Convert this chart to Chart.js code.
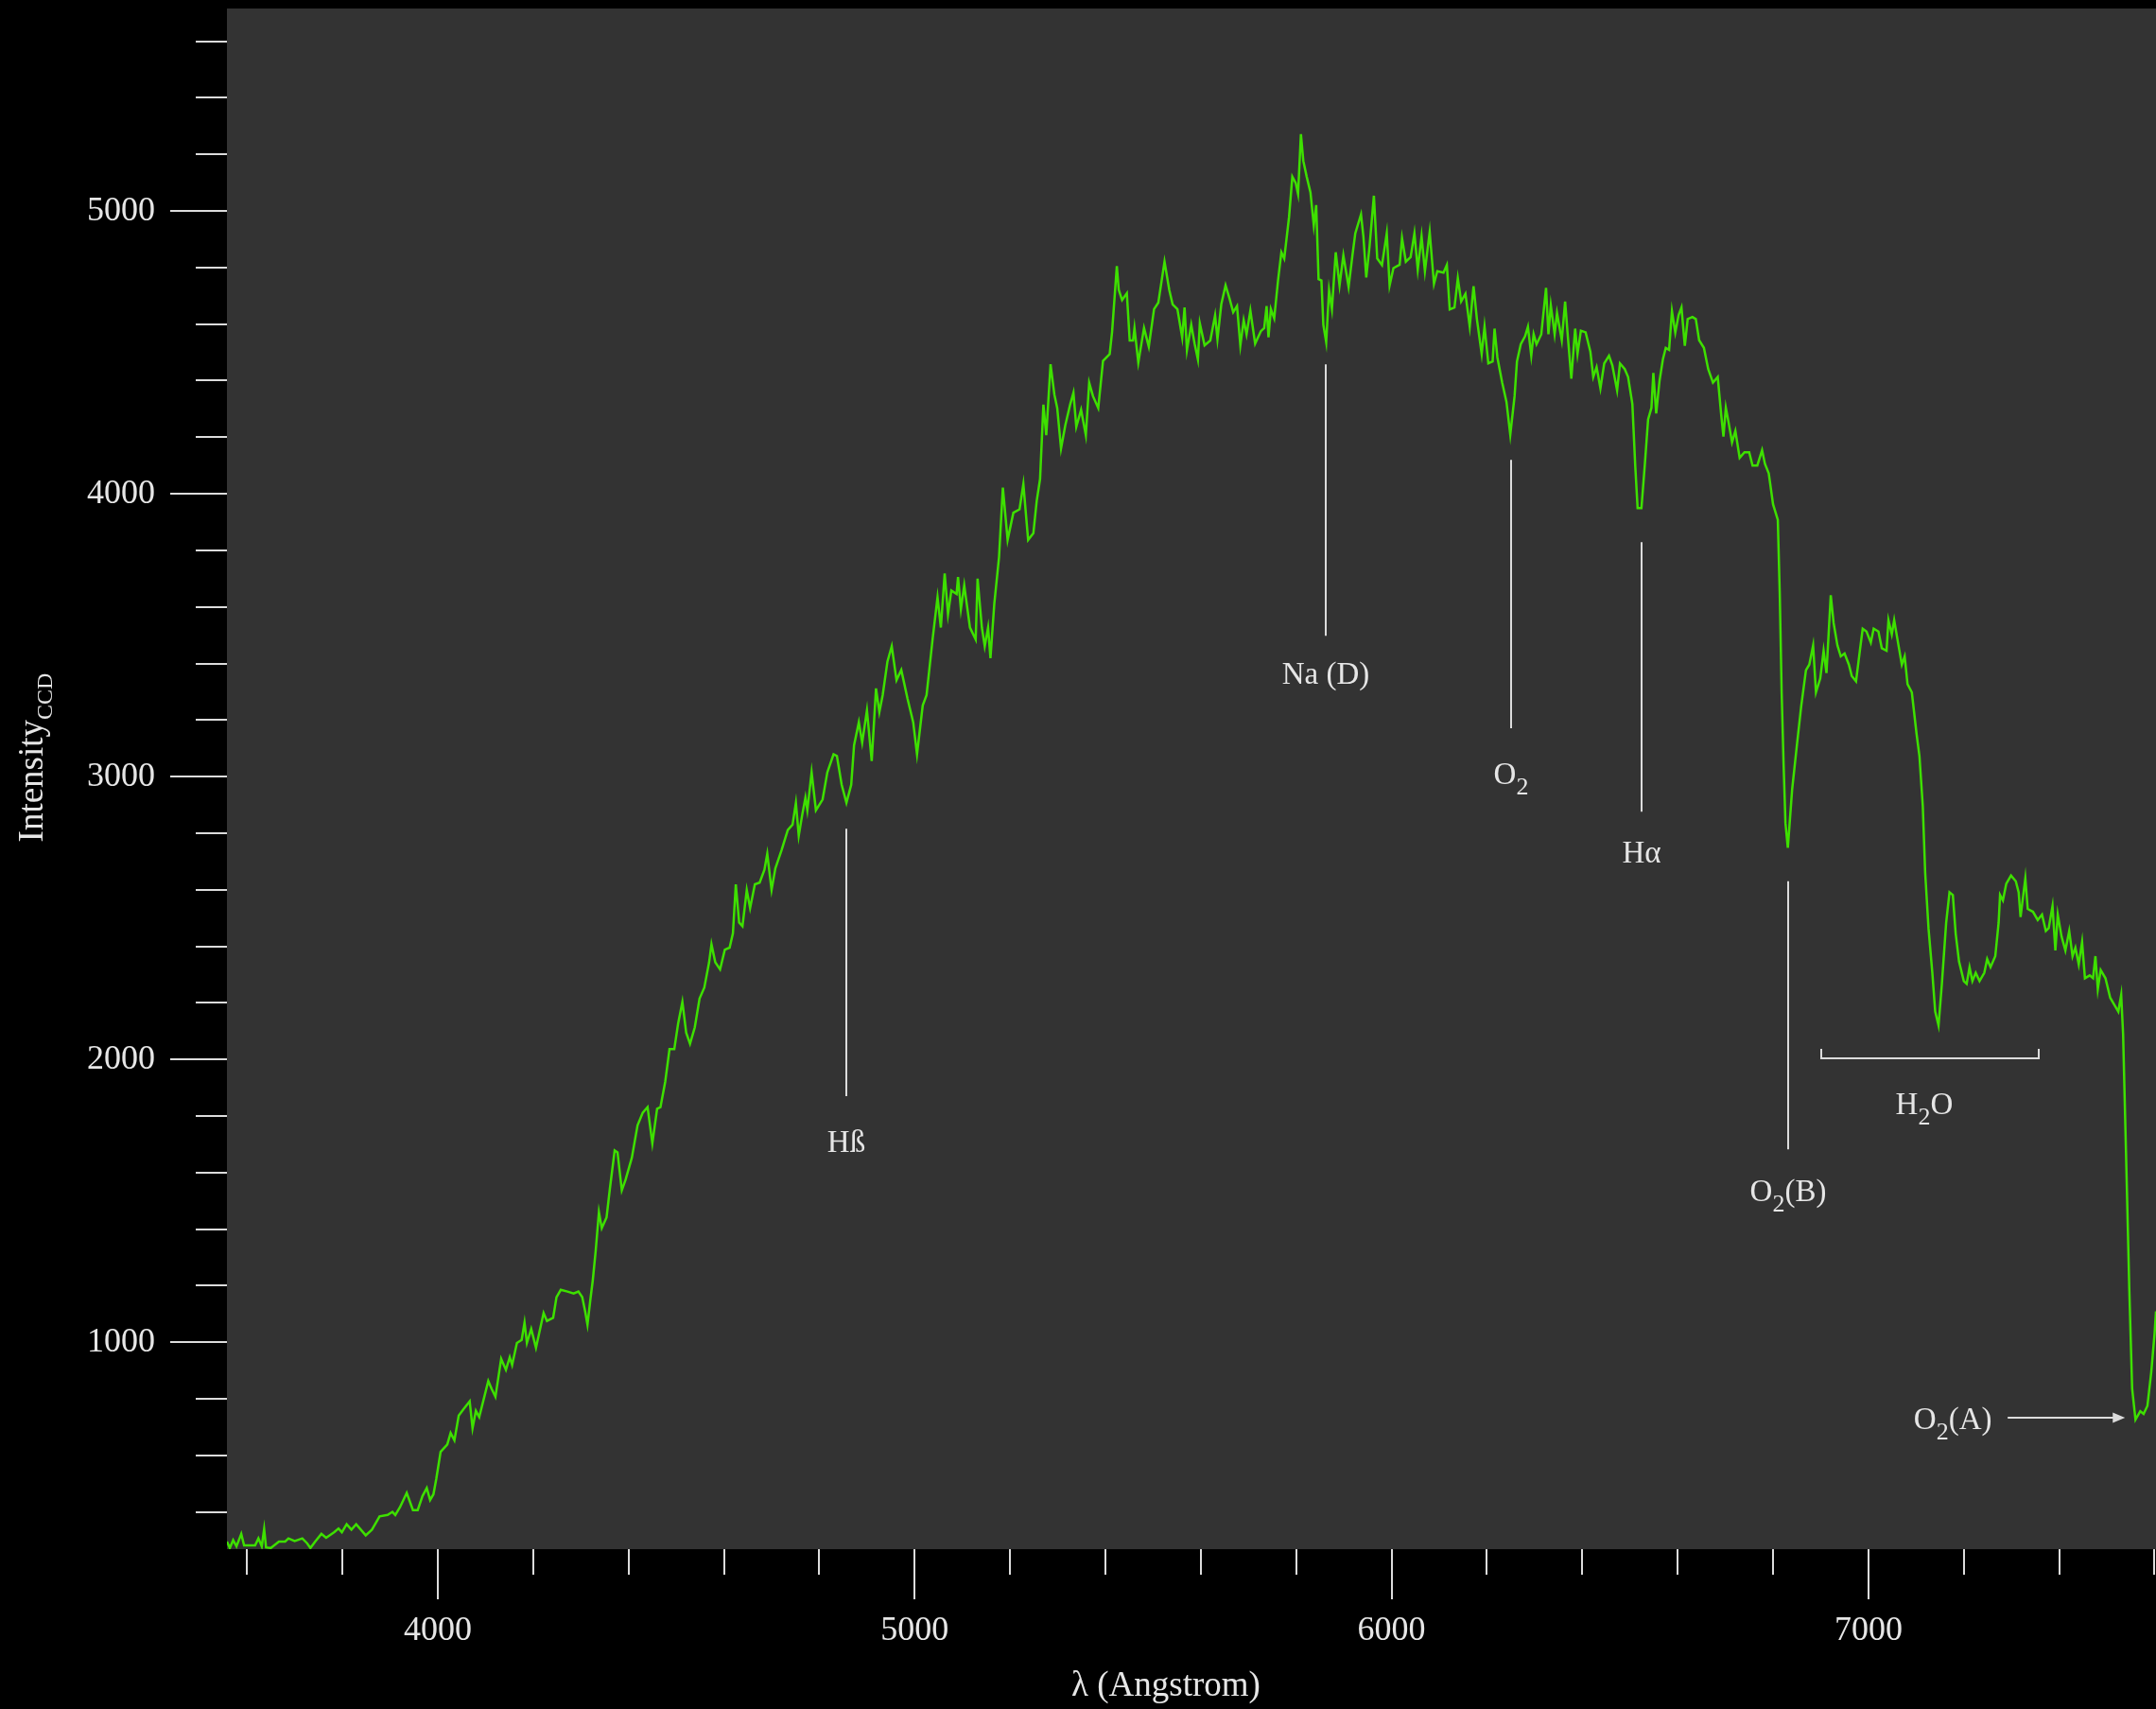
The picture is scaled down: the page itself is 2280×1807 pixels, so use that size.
<!DOCTYPE html>
<html>
<head>
<meta charset="utf-8">
<title>Spectrum</title>
<script src="https://cdn.jsdelivr.net/npm/chart.js@4.4.1/dist/chart.umd.min.js"></script>
<style>
  html, body { margin: 0; padding: 0; background: #000; }
  canvas { display: block; }
</style>
</head>
<body>
<canvas id="spectrum" width="2280" height="1807"></canvas>
<script>
// Wavelength samples (Angstrom)
const wavelength = [
  3558,3564,3571,3578,3588,3594,3617,3624,3631,3636,
  3640,3650,3667,3680,3687,3700,3716,3726,3733,3743,
  3756,3766,3783,3792,3799,3809,3819,3829,3849,3862,
  3878,3895,3905,3911,3921,3935,3948,3958,3968,3977,
  3984,3991,3997,4006,4020,4027,4035,4044,4054,4067,
  4073,4080,4087,4106,4113,4121,4133,4143,4151,4156,
  4166,4176,4182,4187,4196,4206,4222,4229,4242,
  4249,4258,4272,4285,4295,4303,4309,4314,4320,4325,
  4331,4338,4344,4354,4361,4371,4377,4386,4394,4407,
  4419,4430,4440,4450,4460,4467,4477,4486,4496,4504,
  4513,4521,4529,4539,4549,4559,4569,4574,4582,4592,
  4602,4612,4619,4625,4632,4639,4648,4655,4665,4675,
  4685,4691,4700,4708,4721,4734,4744,4751,4757,4764,
  4771,4775,4784,4793,4807,4817,4830,4837,4847,4857,
  4867,
  4873,4883,4890,4900,4910,4919,4926,4933,4943,4952,
  4962,4972,4985,4997,5005,5017,5025,5038,5048,5055,
  5063,5070,5077,5088,5091,5097,5104,5116,5128,5132,
  5141,5147,5154,5159,5167,5177,5185,5195,5207,5220,
  5228,5238,5249,5256,5263,5270,5276,5285,5293,5299,
  5307,5316,5326,5333,5339,5349,5359,5366,5374,5385,
  5395,5409,5414,5424,5428,5435,5445,5451,5458,
  5461,5469,5481,5491,5502,5511,5524,5534,5541,5551,
  5561,5566,5571,5580,5587,5594,5598,5608,5620,5630,
  5635,5643,5652,5660,5668,5676,5683,5690,5696,5704,
  5714,5726,5733,5738,5742,5747,5754,5762,5769,5775,
  5785,5792,5799,5804,5810,5815,5822,5830,5837,5842,
  5847,5853,5857,5863,5869,5875,5883,5891,5899,5910,
  5918,5924,5936,5941,5947,5954,5963,5970,5980,5990,
  5996,6004,6017,6022,6030,6040,6048,6055,6063,6070,
  6080,6089,6096,
  6109,6116,6122,6132,6139,6146,6155,6164,6172,6179,
  6189,6195,6203,6212,6216,6222,6232,6241,6249,6258,
  6263,6271,6280,6286,6293,6298,6304,6314,6324,6329,
  6334,6342,6347,6357,6364,6370,6377,6385,6390,6397,
  6407,6417,6423,6430,6438,6446,6456,6463,6473,6479,
  6489,6496,6505,6511,6516,6524,6531,6538,6545,6549,
  6555,6562,6569,6575,6582,6588,6595,6602,6608,6615,
  6621,6631,6638,6645,6655,6664,6674,6684,6691,6696,
  6701,6707,6714,6721,6730,6740,6750,6757,6767,6777,
  6783,6791,6800,6810,
  6814,6818,6822,6826,6831,6840,6850,6859,6869,6876,
  6884,6890,6899,6906,6912,6921,6927,6935,6942,6950,
  6959,6965,6974,6982,6988,6996,7005,7011,7021,7028,
  7038,7042,7049,7054,7061,7070,7076,7082,7091,7101,
  7107,7114,7119,7126,7134,7140,7147,7154,7163,7170,
  7177,7183,7190,7200,7206,7212,7218,7225,7233,7243,
  7249,7256,7266,7273,7276,7282,7289,7299,7309,7315,
  7319,7329,7334,7345,7355,7364,7372,7378,7386,7392,
  7397,7405,7413,7421,7428,7434,7441,7448,7454,7464,
  7471,7476,7481,7487,7497,7507,7517,7524,7530,7534,
  7540,7547,7553,7560,7570,7577,7585,7593,7600,7603
];

// CCD counts at each wavelength
const intensity = [
  295,272,300,278,322,281,281,306,278,339,
  274,272,295,295,306,297,306,289,272,295,
  322,308,328,341,328,356,337,356,317,337,
  384,389,400,389,417,467,406,406,456,484,
  442,462,517,612,638,679,653,740,763,791,
  696,757,735,863,835,807,941,902,947,919,
  997,1008,1069,997,1047,980,1103,1075,1086,
  1159,1185,1179,1172,1179,1159,1110,1062,1150,1217,
  1319,1460,1403,1441,1543,1678,1671,1537,1575,1652,
  1767,1812,1831,1703,1825,1831,1921,2036,2036,2126,
  2203,2094,2055,2113,2215,2254,2343,2407,2343,2318,
  2388,2395,2446,2619,2484,2471,2599,2535,2619,2625,
  2670,2727,2599,2676,2740,2811,2830,2907,2791,2862,
  2926,2881,3015,2881,2919,3015,3079,3073,2971,2907,
  2971,
  3111,3192,3120,3234,3055,3312,3228,3288,3407,3461,
  3341,3377,3276,3192,3079,3252,3288,3491,3634,3527,
  3718,3574,3658,3646,3706,3592,3676,3527,3485,3700,
  3527,3461,3527,3419,3610,3777,4022,3837,3933,3945,
  4034,3837,3861,3975,4052,4315,4207,4458,4351,4303,
  4160,4243,4315,4357,4237,4297,4207,4393,4345,4303,
  4470,4494,4572,4805,4721,4685,4709,4542,4542,
  4586,4464,4586,4520,4653,4676,4821,4720,4670,4653,
  4553,4659,4508,4598,4531,4475,4603,4525,4542,4631,
  4547,4670,4737,4692,4642,4664,4525,4614,4564,4648,
  4531,4575,4586,4664,4553,4653,4620,4754,4854,4832,
  4977,5121,5099,5060,5272,5177,5122,5066,4949,5021,
  4759,4754,4598,4536,4720,4653,4854,4737,4843,4731,
  4843,4921,4988,4910,4765,4876,5054,4832,4809,4921,
  4737,4798,4810,4904,4821,4837,4921,4793,4910,4787,
  4926,4742,4787,
  4782,4809,4652,4659,4762,4680,4707,4591,4734,4618,
  4495,4591,4461,4468,4584,4482,4393,4325,4209,4345,
  4468,4529,4557,4591,4488,4564,4529,4564,4728,4564,
  4666,4564,4639,4543,4680,4550,4407,4584,4495,4577,
  4571,4502,4413,4448,4373,4461,4488,4454,4366,4461,
  4441,4413,4318,4100,3949,3949,4100,4263,4304,4427,
  4284,4400,4475,4516,4509,4646,4570,4632,4659,4523,
  4618,4625,4618,4543,4516,4441,4393,4413,4284,4202,
  4304,4250,4182,4222,4127,4147,4147,4100,4100,4154,
  4106,4072,3963,3908,
  3650,3300,3050,2836,2748,2954,3111,3248,3376,3396,
  3464,3298,3347,3445,3366,3641,3543,3464,3425,3435,
  3396,3356,3337,3445,3523,3513,3474,3523,3513,3454,
  3445,3553,3503,3553,3484,3396,3425,3327,3298,3150,
  3072,2895,2660,2463,2306,2169,2120,2267,2483,2591,
  2581,2444,2346,2277,2267,2326,2277,2306,2277,2306,
  2355,2326,2365,2483,2581,2562,2621,2650,2630,2591,
  2503,2640,2532,2522,2493,2512,2454,2464,2542,2385,
  2512,2434,2385,2454,2365,2395,2336,2415,2287,2297,
  2287,2365,2248,2316,2287,2218,2189,2169,2228,2090,
  1678,1188,835,726,756,746,775,893,1030,1109
];

// Axis ticks: every value gets a tick mark, labelled ones get a longer mark
const xTickValues = [3600,3800,4000,4200,4400,4600,4800,5000,5200,5400,5600,5800,
                     6000,6200,6400,6600,6800,7000,7200,7400,7600];
const xTickLabels = [4000, 5000, 6000, 7000];
const yTickValues = [400,600,800,1000,1200,1400,1600,1800,2000,2200,2400,2600,2800,
                     3000,3200,3400,3600,3800,4000,4200,4400,4600,4800,5000,5200,5400,5600];
const yTickLabels = [1000, 2000, 3000, 4000, 5000];

// Identified absorption features: wavelength, marker span and label level (counts)
const featureNames  = ['Hß',  'Na (D)', 'O{2}', 'Hα', 'O{2}(B)'];
const featureWave   = [4857,  5862,     6251,   6524, 6832];
const featureTop    = [2816,  4458,     4120,   3829, 2630];
const featureBottom = [1870,  3498,     3171,   2876, 1682];
const featureText   = [1672,  3328,     2973,   2696, 1500];

// Water band bracket and the O2 (A) band pointer
const waterBand = { name: 'H{2}O', from: 6901, to: 7357, level: 2003, cap: 2037, textWave: 7117, textLevel: 1806 };
const oxygenA   = { name: 'O{2}(A)', from: 7292, to: 7538, level: 732, textWave: 7177, textLevel: 692 };

const SERIF = "'Liberation Serif', 'Times New Roman', serif";
const TEXT_COLOR = '#e6e6e6';
const INK_COLOR = '#dcdcdc';
const CURVE_COLOR = '#3ee000';
const font = px => px + 'px ' + SERIF;

// "O{2}(B)" -> runs of normal and subscript text
function parseRich(str) {
  const out = [];
  const re = /\{([^}]*)\}|([^{]+)/g;
  let m;
  while ((m = re.exec(str))) {
    out.push(m[1] !== undefined ? { t: m[1], sub: true } : { t: m[2], sub: false });
  }
  return out;
}

function drawRich(ctx, str, cx, baseline, size, subSize, subShift) {
  const parts = parseRich(str);
  let total = 0;
  for (const p of parts) {
    ctx.font = font(p.sub ? subSize : size);
    p.w = ctx.measureText(p.t).width;
    total += p.w;
  }
  let x = cx - total / 2;
  ctx.textAlign = 'left';
  ctx.textBaseline = 'alphabetic';
  for (const p of parts) {
    ctx.font = font(p.sub ? subSize : size);
    ctx.fillText(p.t, x, baseline + (p.sub ? subShift : 0));
    x += p.w;
  }
}

const spectrumDecor = {
  id: 'spectrumDecor',
  beforeDraw(chart) {
    const { ctx, chartArea: a } = chart;
    ctx.save();
    ctx.fillStyle = '#000';
    ctx.fillRect(0, 0, chart.width, chart.height);
    ctx.fillStyle = '#333333';
    ctx.fillRect(a.left, a.top, a.right - a.left, a.bottom - a.top);
    ctx.restore();
  },
  afterDraw(chart) {
    const { ctx, chartArea: a, scales: { x, y } } = chart;
    ctx.save();

    // tick marks
    ctx.strokeStyle = INK_COLOR;
    ctx.lineWidth = 2;
    ctx.beginPath();
    for (const v of xTickValues) {
      const px = Math.round(x.getPixelForValue(v));
      const len = xTickLabels.includes(v) ? 53 : 27;
      ctx.moveTo(px, a.bottom);
      ctx.lineTo(px, a.bottom + len);
    }
    for (const v of yTickValues) {
      const py = Math.round(y.getPixelForValue(v));
      const len = yTickLabels.includes(v) ? 60 : 33;
      ctx.moveTo(a.left - len, py);
      ctx.lineTo(a.left, py);
    }
    ctx.stroke();

    // feature markers
    ctx.fillStyle = TEXT_COLOR;
    featureNames.forEach((name, i) => {
      const px = Math.round(x.getPixelForValue(featureWave[i]));
      ctx.beginPath();
      ctx.moveTo(px, y.getPixelForValue(featureTop[i]));
      ctx.lineTo(px, y.getPixelForValue(featureBottom[i]));
      ctx.stroke();
      drawRich(ctx, name, px, y.getPixelForValue(featureText[i]), 33, 26, 11);
    });

    // water band bracket
    const bx0 = Math.round(x.getPixelForValue(waterBand.from));
    const bx1 = Math.round(x.getPixelForValue(waterBand.to));
    const by = Math.round(y.getPixelForValue(waterBand.level));
    const bc = Math.round(y.getPixelForValue(waterBand.cap));
    ctx.beginPath();
    ctx.moveTo(bx0, bc); ctx.lineTo(bx0, by); ctx.lineTo(bx1, by); ctx.lineTo(bx1, bc);
    ctx.stroke();
    drawRich(ctx, waterBand.name, x.getPixelForValue(waterBand.textWave), y.getPixelForValue(waterBand.textLevel), 33, 26, 11);

    // O2 (A) pointer
    const ax0 = x.getPixelForValue(oxygenA.from);
    const ax1 = x.getPixelForValue(oxygenA.to);
    const ay = Math.round(y.getPixelForValue(oxygenA.level));
    ctx.beginPath();
    ctx.moveTo(ax0, ay); ctx.lineTo(ax1 - 10, ay);
    ctx.stroke();
    ctx.fillStyle = INK_COLOR;
    ctx.beginPath();
    ctx.moveTo(ax1, ay); ctx.lineTo(ax1 - 13, ay - 5.5); ctx.lineTo(ax1 - 13, ay + 5.5);
    ctx.closePath();
    ctx.fill();
    ctx.fillStyle = TEXT_COLOR;
    drawRich(ctx, oxygenA.name, x.getPixelForValue(oxygenA.textWave), y.getPixelForValue(oxygenA.textLevel), 33, 26, 11);

    // axis titles
    ctx.textAlign = 'center';
    ctx.textBaseline = 'alphabetic';
    ctx.font = font(37);
    ctx.fillText('λ (Angstrom)', 1233, 1793);

    ctx.save();
    ctx.translate(45, 801);
    ctx.rotate(-Math.PI / 2);
    drawRich(ctx, 'Intensity{CCD}', 0, 0, 37, 24, 10);
    ctx.restore();

    ctx.restore();
  }
};

const ctx = document.getElementById('spectrum').getContext('2d');
new Chart(ctx, {
  type: 'line',
  data: {
    datasets: [{
      data: wavelength.map((w, i) => ({ x: w, y: intensity[i] })),
      borderColor: CURVE_COLOR,
      borderWidth: 2.5,
      pointRadius: 0,
      tension: 0,
      fill: false
    }]
  },
  options: {
    responsive: false,
    animation: false,
    devicePixelRatio: 1,
    layout: { padding: { top: 9, right: 0, bottom: 0, left: 0 } },
    plugins: { legend: { display: false }, tooltip: { enabled: false } },
    scales: {
      x: {
        type: 'linear',
        min: 3558,
        max: 7603,
        grid: { display: false, drawTicks: false },
        border: { display: false },
        afterBuildTicks: s => { s.ticks = xTickValues.map(v => ({ value: v })); },
        afterFit: s => { s.height = 169; s.paddingLeft = 0; s.paddingRight = 0; },
        ticks: {
          autoSkip: false, maxRotation: 0, minRotation: 0,
          padding: 65,
          color: TEXT_COLOR,
          font: { family: SERIF, size: 36 },
          callback: v => xTickLabels.includes(v) ? String(v) : null
        }
      },
      y: {
        type: 'linear',
        min: 268,
        max: 5716,
        grid: { display: false, drawTicks: false },
        border: { display: false },
        afterBuildTicks: s => { s.ticks = yTickValues.map(v => ({ value: v })); },
        afterFit: s => { s.width = 240; s.paddingTop = 0; s.paddingBottom = 0; },
        ticks: {
          autoSkip: false,
          padding: 76,
          color: TEXT_COLOR,
          font: { family: SERIF, size: 36 },
          callback: v => yTickLabels.includes(v) ? String(v) : null
        }
      }
    }
  },
  plugins: [spectrumDecor]
});
</script>
</body>
</html>
